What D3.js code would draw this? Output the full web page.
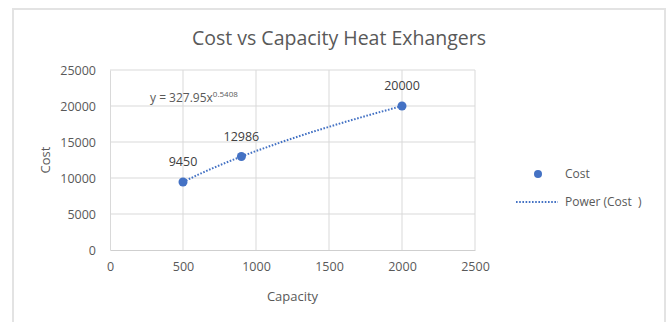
<!DOCTYPE html>
<html>
<head>
<meta charset="utf-8">
<script src="https://cdn.jsdelivr.net/npm/d3@7"></script>
<style>
  html, body { margin: 0; padding: 0; background: #fff; }
  svg { display: block; font-family: "Open Sans", "Liberation Sans", sans-serif; }
</style>
</head>
<body>
<svg id="chart" width="670" height="322"></svg>
<script>
// Heat exchanger cost observations
const capacity = [500, 900, 2000];
const cost = [9450, 12986, 20000];
const costLabels = ["9450", "12986", "20000"];

// Power-law fit: cost = a * capacity^b
const fitA = 327.95;
const fitB = 0.5408;
const fitCapacity = [500, 600, 700, 800, 900, 1000, 1200, 1400, 1600, 1800, 2000];

const xTicks = [0, 500, 1000, 1500, 2000, 2500];
const yTicks = [0, 5000, 10000, 15000, 20000, 25000];

const titleText = "Cost vs Capacity Heat Exhangers";
const xTitle = "Capacity";
const yTitle = "Cost";
const legendItems = ["Cost", "Power (Cost  )"];

const blue = "#4472C4";
const textGray = "#595959";
const gridGray = "#d9d9d9";

const svg = d3.select("#chart");

// outer chart frame
svg.append("rect")
  .attr("x", 13).attr("y", 9)
  .attr("width", 652).attr("height", 330)
  .attr("fill", "#fff")
  .attr("stroke", "#e3e3e3").attr("stroke-width", 2);

const x = d3.scaleLinear().domain([0, 2500]).range([110, 475]);
const y = d3.scaleLinear().domain([0, 25000]).range([250, 70]);

// title
svg.append("text")
  .attr("x", 339).attr("y", 45)
  .attr("text-anchor", "middle")
  .attr("fill", textGray)
  .attr("font-size", 19.5)
  .text(titleText);

// gridlines
const grid = svg.append("g");
grid.selectAll("line.v").data(xTicks.slice(1)).join("line")
  .attr("x1", d => x(d)).attr("x2", d => x(d))
  .attr("y1", y(0)).attr("y2", y(25000))
  .attr("stroke", gridGray).attr("stroke-width", 1);
grid.selectAll("line.h").data(yTicks.slice(1)).join("line")
  .attr("x1", x(0)).attr("x2", x(2500))
  .attr("y1", d => y(d)).attr("y2", d => y(d))
  .attr("stroke", gridGray).attr("stroke-width", 1);

// axes
const xAxis = svg.append("g")
  .attr("transform", `translate(0,${y(0)})`)
  .call(d3.axisBottom(x).tickValues(xTicks).tickSize(0).tickPadding(12).tickFormat(d3.format("d")));
xAxis.select(".domain").attr("stroke", "#cfcfcf").attr("stroke-width", 1.2);

const yAxis = svg.append("g")
  .attr("transform", `translate(${x(0)},0)`)
  .call(d3.axisLeft(y).tickValues(yTicks).tickSize(0).tickPadding(14).tickFormat(d3.format("d")));
yAxis.select(".domain").attr("stroke", gridGray);

svg.selectAll(".tick text")
  .attr("fill", textGray)
  .attr("font-size", 12.5)
  .attr("font-family", "\"Open Sans\", sans-serif");

// axis titles
svg.append("text")
  .attr("x", (x(0) + x(2500)) / 2).attr("y", 301)
  .attr("text-anchor", "middle")
  .attr("fill", textGray).attr("font-size", 13)
  .text(xTitle);
svg.append("text")
  .attr("transform", `translate(50,${(y(0) + y(25000)) / 2}) rotate(-90)`)
  .attr("text-anchor", "middle")
  .attr("fill", textGray).attr("font-size", 13)
  .text(yTitle);

// trendline
const fitLine = d3.line()
  .x(d => x(d))
  .y(d => y(fitA * Math.pow(d, fitB)));
svg.append("path")
  .datum(fitCapacity)
  .attr("d", fitLine)
  .attr("fill", "none")
  .attr("stroke", blue)
  .attr("stroke-width", 2)
  .attr("stroke-dasharray", "1.6,1.6");

// data points
const pts = capacity.map((c, i) => ({ c, v: cost[i], label: costLabels[i] }));
svg.selectAll("circle.pt").data(pts).join("circle")
  .attr("cx", d => x(d.c)).attr("cy", d => y(d.v))
  .attr("r", 4.5)
  .attr("fill", blue);

// data labels
svg.selectAll("text.lbl").data(pts).join("text")
  .attr("x", d => x(d.c)).attr("y", d => y(d.v) - 16)
  .attr("text-anchor", "middle")
  .attr("fill", "#404040").attr("font-size", 12.5)
  .text(d => d.label);

// trendline equation
const eq = svg.append("text")
  .attr("x", 150).attr("y", 102)
  .attr("fill", textGray).attr("font-size", 12);
eq.append("tspan").text("y = " + fitA + "x");
eq.append("tspan").attr("font-size", 8).attr("dy", -5).text(String(fitB));

// legend
const lg = svg.append("g");
lg.append("circle").attr("cx", 538).attr("cy", 174).attr("r", 4).attr("fill", blue);
lg.append("line")
  .attr("x1", 516).attr("x2", 558).attr("y1", 202).attr("y2", 202)
  .attr("stroke", blue).attr("stroke-width", 2).attr("stroke-dasharray", "1.6,1.6");
lg.selectAll("text").data(legendItems).join("text")
  .attr("x", 565).attr("y", (d, i) => 178 + i * 28)
  .attr("fill", textGray).attr("font-size", 12)
  .style("white-space", "pre")
  .text(d => d);
</script>
</body>
</html>
